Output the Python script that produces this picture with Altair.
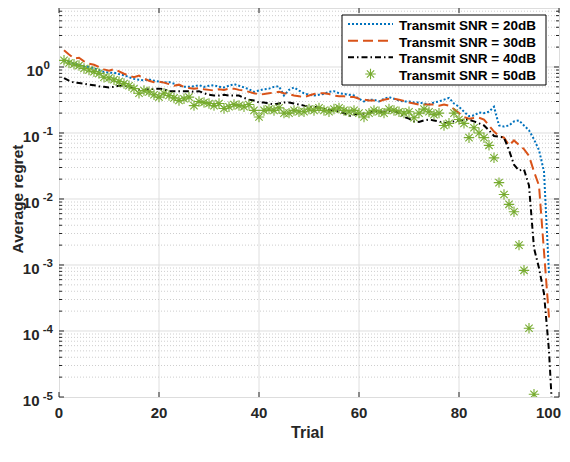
import altair as alt
import pandas as pd

W, H = 500, 389
Y_MIN, Y_MAX = 1e-5, 7.83
FONT = "Liberation Sans"
AX = "#262626"

names = ["Transmit SNR = 20dB", "Transmit SNR = 30dB",
         "Transmit SNR = 40dB", "Transmit SNR = 50dB"]
colors = ["#0072BD", "#D95319", "#000000", "#77AC30"]

blue = [1.25, 1.2, 1.12, 1.08, 1.02, 1.0, 0.95, 0.9, 0.84, 0.82,
        0.82, 0.78, 0.75, 0.7, 0.66, 0.64, 0.63, 0.65, 0.62, 0.6,
        0.58, 0.59, 0.56, 0.52, 0.5, 0.5, 0.51, 0.53, 0.5, 0.52,
        0.53, 0.5, 0.49, 0.52, 0.55, 0.52, 0.49, 0.46, 0.42, 0.44,
        0.46, 0.47, 0.5, 0.51, 0.37, 0.45, 0.49, 0.44, 0.4, 0.38,
        0.37, 0.38, 0.39, 0.42, 0.43, 0.4, 0.39, 0.38, 0.37, 0.33,
        0.3, 0.32, 0.32, 0.3, 0.33, 0.35, 0.33, 0.31, 0.3, 0.3,
        0.29, 0.29, 0.28, 0.27, 0.29, 0.3, 0.32, 0.34, 0.28, 0.25,
        0.21, 0.18, 0.185, 0.205, 0.2, 0.21, 0.25, 0.13, 0.125, 0.13,
        0.15, 0.155, 0.13, 0.11, 0.08, 0.055, 0.026, 0.00074]

orange = [1.8, 1.55, 1.35, 1.38, 1.22, 1.12, 1.08, 1.0, 0.92, 0.88,
          0.93, 0.86, 0.79, 0.74, 0.7, 0.74, 0.67, 0.62, 0.59, 0.6,
          0.58, 0.55, 0.52, 0.54, 0.5, 0.48, 0.47, 0.48, 0.46, 0.45,
          0.44, 0.46, 0.45, 0.47, 0.47, 0.45, 0.44, 0.42, 0.4, 0.385,
          0.39, 0.4, 0.41, 0.42, 0.4, 0.39, 0.37, 0.36, 0.35, 0.37,
          0.39, 0.4, 0.4, 0.39, 0.37, 0.36, 0.36, 0.35, 0.35, 0.33,
          0.32, 0.31, 0.31, 0.3, 0.32, 0.33, 0.33, 0.32, 0.305, 0.29,
          0.28, 0.27, 0.27, 0.27, 0.27, 0.26, 0.27, 0.26, 0.23, 0.2,
          0.175, 0.165, 0.168, 0.17, 0.16, 0.13, 0.105, 0.09, 0.085, 0.065,
          0.077, 0.066, 0.057, 0.045, 0.026, 0.016, 0.0016, 0.00016]

black = [0.68, 0.62, 0.58, 0.57, 0.56, 0.54, 0.53, 0.51, 0.5, 0.49,
         0.5, 0.52, 0.52, 0.5, 0.47, 0.45, 0.45, 0.46, 0.47, 0.47,
         0.46, 0.43, 0.43, 0.43, 0.43, 0.43, 0.42, 0.43, 0.4, 0.38,
         0.37, 0.37, 0.38, 0.37, 0.37, 0.37, 0.34, 0.32, 0.31, 0.29,
         0.29, 0.28, 0.27, 0.28, 0.29, 0.29, 0.28, 0.27, 0.26, 0.25,
         0.25, 0.24, 0.23, 0.225, 0.22, 0.21, 0.2, 0.18, 0.19, 0.195,
         0.195, 0.2, 0.215, 0.21, 0.21, 0.215, 0.215, 0.2, 0.175, 0.165,
         0.15, 0.147, 0.155, 0.16, 0.155, 0.15, 0.14, 0.145, 0.15, 0.155,
         0.16, 0.158, 0.15, 0.14, 0.13, 0.11, 0.09, 0.088, 0.085, 0.055,
         0.033, 0.027, 0.028, 0.016, 0.0018, 0.0009, 0.00037, 0.00005, 0.000002]

green = [1.26, 1.15, 1.1, 1.05, 0.95, 0.9, 0.85, 0.8, 0.7, 0.68,
         0.64, 0.6, 0.56, 0.52, 0.47, 0.4, 0.44, 0.42, 0.38, 0.35,
         0.4, 0.37, 0.34, 0.31, 0.33, 0.35, 0.26, 0.3, 0.29, 0.28,
         0.26, 0.28, 0.235, 0.25, 0.27, 0.26, 0.25, 0.27, 0.22, 0.175,
         0.22, 0.23, 0.22, 0.24, 0.2, 0.2, 0.22, 0.21, 0.21, 0.23,
         0.22, 0.24, 0.22, 0.21, 0.23, 0.24, 0.22, 0.21, 0.22, 0.2,
         0.175, 0.2, 0.22, 0.21, 0.2, 0.23, 0.22, 0.21, 0.2, 0.21,
         0.17, 0.2, 0.23, 0.21, 0.19, 0.2, 0.13, 0.14, 0.2, 0.16,
         0.14, 0.085, 0.12, 0.1, 0.085, 0.065, 0.042, 0.0177, 0.0117, 0.0083,
         0.0064, 0.002, 0.00083, 0.00011, 0.000011]

x_ticks = [0, 20, 40, 60, 80, 100]
y_decades = [1, 0.1, 0.01, 0.001, 0.0001, 0.00001]
y_exponents = ["0", "-1", "-2", "-3", "-4", "-5"]
minor_mult = [2, 3, 4, 5, 6, 7, 8, 9]
y_minor = [m * d for d in y_decades for m in minor_mult if m * d < Y_MAX]

STAR = "M0,-1L0,1M-1,0L1,0M-0.7,-0.7L0.7,0.7M-0.7,0.7L0.7,-0.7"

xs = alt.Scale(domain=[0, 100], nice=False, zero=False)
ys = alt.Scale(type="log", domain=[Y_MIN, Y_MAX], nice=False)


def X(f="t"):
    return alt.X(f"{f}:Q", scale=xs, axis=None)


def Y(f="v"):
    return alt.Y(f"{f}:Q", scale=ys, axis=None)


def sdf(vals):
    return pd.DataFrame({"t": list(range(1, len(vals) + 1)), "v": vals})


one = pd.DataFrame({"k": [0]})
layers = []

# grids
layers.append(alt.Chart(pd.DataFrame({"t": x_ticks[1:-1]})).mark_rule(
    color="#dedede", strokeWidth=1).encode(x=X(), y=alt.value(0), y2=alt.value(H)))
layers.append(alt.Chart(pd.DataFrame({"v": y_minor})).mark_rule(
    color="#c2c2c2", strokeWidth=0.8, strokeDash=[1, 2]).encode(
    y=Y(), x=alt.value(0), x2=alt.value(W)))
layers.append(alt.Chart(pd.DataFrame({"v": y_decades[:-1]})).mark_rule(
    color="#dedede", strokeWidth=1).encode(y=Y(), x=alt.value(0), x2=alt.value(W)))

# data
layers.append(alt.Chart(sdf(blue)).mark_line(
    color=colors[0], strokeWidth=2, strokeDash=[2, 2], clip=True).encode(x=X(), y=Y()))
layers.append(alt.Chart(sdf(orange)).mark_line(
    color=colors[1], strokeWidth=2, strokeDash=[10, 5], clip=True).encode(x=X(), y=Y()))
layers.append(alt.Chart(sdf(black)).mark_line(
    color=colors[2], strokeWidth=2, strokeDash=[6, 3, 1.5, 3], clip=True).encode(x=X(), y=Y()))
layers.append(alt.Chart(sdf(green)).mark_point(
    shape=STAR, size=110, filled=False, color=colors[3], strokeWidth=1.1,
    opacity=1, clip=True).encode(x=X(), y=Y()))

# ticks
xt = pd.DataFrame({"t": x_ticks})
layers.append(alt.Chart(xt).mark_rule(color=AX, strokeWidth=1).encode(
    x=X(), y=alt.value(H), y2=alt.value(H - 5)))
layers.append(alt.Chart(xt).mark_rule(color=AX, strokeWidth=1).encode(
    x=X(), y=alt.value(0), y2=alt.value(5)))
ymaj = pd.DataFrame({"v": y_decades})
ymin = pd.DataFrame({"v": y_minor})
for d, ln in ((ymaj, 5), (ymin, 3)):
    layers.append(alt.Chart(d).mark_rule(color=AX, strokeWidth=1).encode(
        y=Y(), x=alt.value(0), x2=alt.value(ln)))
    layers.append(alt.Chart(d).mark_rule(color=AX, strokeWidth=1).encode(
        y=Y(), x=alt.value(W), x2=alt.value(W - ln)))

# tick labels (last one kept inside the page)
xl = pd.DataFrame({"t": x_ticks, "lab": [str(x) for x in x_ticks]})
layers.append(alt.Chart(xl.iloc[:-1]).mark_text(
    font=FONT, fontSize=15, fontWeight="bold", color=AX, baseline="alphabetic",
    align="center").encode(x=X(), y=alt.value(H + 21), text="lab:N"))
layers.append(alt.Chart(xl.iloc[-1:]).mark_text(
    font=FONT, fontSize=15, fontWeight="bold", color=AX, baseline="alphabetic",
    align="right", dx=2).encode(x=X(), y=alt.value(H + 21), text="lab:N"))

ylab = pd.DataFrame({"v": y_decades, "e": y_exponents})
for is_zero, ten_x, exp_x in ((True, -15.7, -9), (False, -19.5, -6)):
    sub = ylab[(ylab["e"] == "0") == is_zero]
    layers.append(alt.Chart(sub).mark_text(
        font=FONT, fontSize=15, fontWeight="bold", color=AX, baseline="alphabetic",
        align="right", dy=9).encode(y=Y(), x=alt.value(ten_x), text=alt.value("10")))
    layers.append(alt.Chart(sub).mark_text(
        font=FONT, fontSize=11.5, fontWeight="bold", color=AX, baseline="alphabetic",
        align="right", dy=2.5).encode(y=Y(), x=alt.value(exp_x), text="e:N"))

# axis titles
layers.append(alt.Chart(pd.DataFrame({"s": ["Average regret"]})).mark_text(
    font=FONT, fontSize=15.5, fontWeight="bold", color=AX, angle=270,
    align="center", baseline="alphabetic").encode(
    x=alt.value(-36.5), y=alt.value(191), text="s:N"))
layers.append(alt.Chart(pd.DataFrame({"s": ["Trial"]})).mark_text(
    font=FONT, fontSize=16, fontWeight="bold", color=AX,
    align="center", baseline="alphabetic").encode(
    x=alt.value(248.5), y=alt.value(430), text="s:N"))

# legend
layers.append(alt.Chart(one).mark_rect(fill="white", stroke="#000000", strokeWidth=1).encode(
    x=alt.value(283), x2=alt.value(487), y=alt.value(7), y2=alt.value(77)))
row_y = [16, 32.7, 49.3, 66]
dashes = [[2, 2], [10, 5], [6, 3, 1.5, 3]]
for i in range(3):
    layers.append(alt.Chart(one).mark_rule(
        color=colors[i], strokeWidth=2, strokeDash=dashes[i]).encode(
        x=alt.value(289), x2=alt.value(334), y=alt.value(row_y[i])))
layers.append(alt.Chart(one).mark_point(
    shape=STAR, size=110, filled=False, color=colors[3], strokeWidth=1.1, opacity=1).encode(
    x=alt.value(311.5), y=alt.value(row_y[3])))
for i in range(4):
    layers.append(alt.Chart(pd.DataFrame({"s": [names[i]]})).mark_text(
        font=FONT, fontSize=13.5, fontWeight="bold", color="#000000",
        align="left", baseline="alphabetic").encode(
        x=alt.value(340), y=alt.value(row_y[i] + 6), text="s:N"))

chart = alt.layer(*layers).properties(
    width=W, height=H,
    padding={"left": 51, "top": 0, "right": 3, "bottom": 46},
    autosize=alt.AutoSizeParams(type="none"),
).configure_view(stroke=AX, strokeWidth=1).configure(background="white")

chart.save("out.html", embed_options={"renderer": "svg", "actions": False})
